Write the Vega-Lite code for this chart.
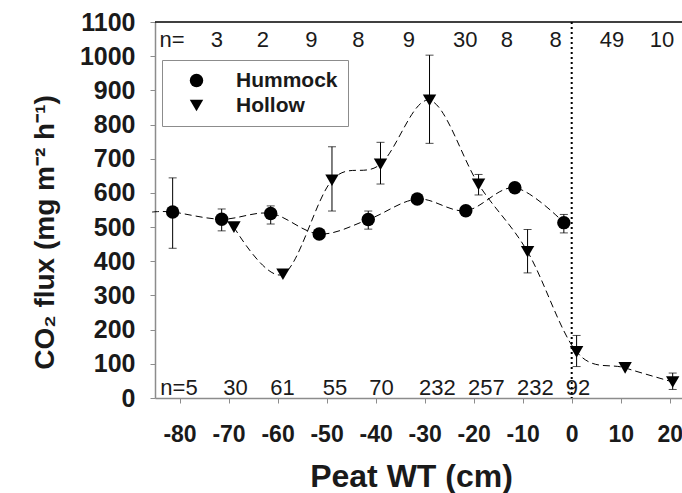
{
  "$schema": "https://vega.github.io/schema/vega-lite/v6.json",
  "width": 527,
  "height": 376,
  "autosize": {"type": "none"},
  "padding": {"left": 155, "top": 22, "right": 0, "bottom": 95},
  "background": "white",
  "config": {
    "view": {"stroke": null},
    "font": "Liberation Sans",
    "axis": {
      "grid": false,
      "domainColor": "#8c8c8c",
      "domainWidth": 1.5,
      "tickColor": "#8c8c8c",
      "tickSize": 5,
      "tickWidth": 1,
      "labelFont": "Liberation Sans",
      "labelFontWeight": "bold",
      "labelColor": "#1a1a1a",
      "labelOverlap": false,
      "titleFont": "Liberation Sans",
      "titleFontWeight": "bold",
      "titleColor": "#1a1a1a"
    },
    "axisX": {"labelFontSize": 23, "labelDx": -2.5, "titleFontSize": 32},
    "axisY": {"labelFontSize": 25, "titleFontSize": 28}
  },
  "datasets": {
    "pts": [
      {"site": "Hummock", "wt": -81.4, "flux": 544, "lo": 438, "hi": 644},
      {"site": "Hummock", "wt": -71.4, "flux": 523, "lo": 489, "hi": 553},
      {"site": "Hummock", "wt": -61.4, "flux": 540, "lo": 509, "hi": 562},
      {"site": "Hummock", "wt": -51.5, "flux": 480, "lo": 468, "hi": 492},
      {"site": "Hummock", "wt": -41.5, "flux": 522, "lo": 494, "hi": 547},
      {"site": "Hummock", "wt": -31.5, "flux": 582, "lo": 570, "hi": 594},
      {"site": "Hummock", "wt": -21.6, "flux": 548, "lo": null, "hi": null},
      {"site": "Hummock", "wt": -11.6, "flux": 615, "lo": null, "hi": null},
      {"site": "Hummock", "wt": -1.6, "flux": 513, "lo": 483, "hi": 537},
      {"site": "Hollow", "wt": -68.9, "flux": 500, "lo": null, "hi": null},
      {"site": "Hollow", "wt": -58.9, "flux": 362, "lo": null, "hi": null},
      {"site": "Hollow", "wt": -48.9, "flux": 637, "lo": 547, "hi": 735},
      {"site": "Hollow", "wt": -39.0, "flux": 684, "lo": 626, "hi": 748},
      {"site": "Hollow", "wt": -29.0, "flux": 871, "lo": 745, "hi": 1003},
      {"site": "Hollow", "wt": -19.0, "flux": 625, "lo": 594, "hi": 654},
      {"site": "Hollow", "wt": -9.0, "flux": 428, "lo": 366, "hi": 493},
      {"site": "Hollow", "wt": 1.0, "flux": 135, "lo": 92, "hi": 183},
      {"site": "Hollow", "wt": 10.9, "flux": 88, "lo": null, "hi": null},
      {"site": "Hollow", "wt": 20.6, "flux": 47, "lo": 25, "hi": 73}
    ],
    "curve": [
      {"site": "Hummock", "wt": -85.6, "flux": 544},
      {"site": "Hummock", "wt": -81.4, "flux": 544},
      {"site": "Hummock", "wt": -71.4, "flux": 523},
      {"site": "Hummock", "wt": -61.4, "flux": 540},
      {"site": "Hummock", "wt": -51.5, "flux": 480},
      {"site": "Hummock", "wt": -41.5, "flux": 522},
      {"site": "Hummock", "wt": -31.5, "flux": 582},
      {"site": "Hummock", "wt": -21.6, "flux": 548},
      {"site": "Hummock", "wt": -11.6, "flux": 615},
      {"site": "Hummock", "wt": -1.6, "flux": 513},
      {"site": "Hollow", "wt": -68.9, "flux": 500},
      {"site": "Hollow", "wt": -58.9, "flux": 362},
      {"site": "Hollow", "wt": -48.9, "flux": 637},
      {"site": "Hollow", "wt": -39.0, "flux": 684},
      {"site": "Hollow", "wt": -29.0, "flux": 871},
      {"site": "Hollow", "wt": -19.0, "flux": 625},
      {"site": "Hollow", "wt": -9.0, "flux": 428},
      {"site": "Hollow", "wt": 1.0, "flux": 135},
      {"site": "Hollow", "wt": 10.9, "flux": 88},
      {"site": "Hollow", "wt": 20.6, "flux": 47}
    ],
    "nlabels": [
      {"wt": -81.5, "flux": 1028, "label": "n="},
      {"wt": -72.4, "flux": 1028, "label": "3"},
      {"wt": -63.0, "flux": 1028, "label": "2"},
      {"wt": -53.1, "flux": 1028, "label": "9"},
      {"wt": -43.5, "flux": 1028, "label": "8"},
      {"wt": -33.2, "flux": 1028, "label": "9"},
      {"wt": -21.7, "flux": 1028, "label": "30"},
      {"wt": -13.2, "flux": 1028, "label": "8"},
      {"wt": -3.3, "flux": 1028, "label": "8"},
      {"wt": 8.2, "flux": 1028, "label": "49"},
      {"wt": 18.4, "flux": 1028, "label": "10"},
      {"wt": -80.1, "flux": 8, "label": "n=5"},
      {"wt": -68.6, "flux": 8, "label": "30"},
      {"wt": -59.0, "flux": 8, "label": "61"},
      {"wt": -48.3, "flux": 8, "label": "55"},
      {"wt": -38.8, "flux": 8, "label": "70"},
      {"wt": -27.4, "flux": 8, "label": "232"},
      {"wt": -17.4, "flux": 8, "label": "257"},
      {"wt": -7.4, "flux": 8, "label": "232"},
      {"wt": 1.3, "flux": 8, "label": "92"}
    ],
    "guides": [
      {"name": "water table", "wt": 0, "flux": 1100}
    ]
  },
  "layer": [
    {
      "data": {"name": "pts"},
      "mark": {"type": "point", "filled": true, "opacity": 1, "color": "black", "size": 180},
      "encoding": {
        "x": {
          "field": "wt", "type": "quantitative",
          "scale": {"domain": [-85, 22.5], "nice": false, "zero": false},
          "axis": {
            "title": "Peat WT (cm)",
            "values": [-80, -70, -60, -50, -40, -30, -20, -10, 0, 10, 20],
            "labelExpr": "datum.value < 0 ? '-' + abs(datum.value) : '' + datum.value",
            "labelPadding": 20,
            "titlePadding": 15,
            "titleX": 256
          }
        },
        "y": {
          "field": "flux", "type": "quantitative",
          "scale": {"domain": [0, 1100], "nice": false, "zero": false},
          "axis": {
            "title": "CO₂ flux (mg m⁻² h⁻¹)",
            "values": [0, 100, 200, 300, 400, 500, 600, 700, 800, 900, 1000, 1100],
            "labelExpr": "'' + datum.value",
            "labelPadding": 15,
            "titlePadding": 20,
            "titleY": 210
          }
        },
        "shape": {
          "field": "site", "type": "nominal",
          "scale": {"domain": ["Hummock", "Hollow"], "range": ["circle", "triangle-down"]},
          "legend": {
            "title": null,
            "orient": "none",
            "legendX": 7,
            "legendY": 38,
            "strokeColor": "#8c8c8c",
            "padding": 10,
            "rowPadding": 3,
            "labelFont": "Liberation Sans",
            "labelFontSize": 21,
            "labelFontWeight": "bold",
            "labelColor": "#1a1a1a",
            "symbolSize": 180,
            "symbolFillColor": "black",
            "symbolStrokeColor": "black",
            "symbolOffset": 14,
            "labelOffset": 29
          }
        }
      }
    },
    {
      "data": {"name": "pts"},
      "mark": {"type": "rule", "color": "black", "strokeWidth": 1},
      "encoding": {
        "x": {
          "field": "wt", "type": "quantitative",
          "axis": {
            "title": "Peat WT (cm)",
            "values": [-80, -70, -60, -50, -40, -30, -20, -10, 0, 10, 20],
            "labelExpr": "datum.value < 0 ? '-' + abs(datum.value) : '' + datum.value",
            "labelPadding": 20,
            "titlePadding": 15,
            "titleX": 256
          }
        },
        "y": {
          "field": "lo", "type": "quantitative",
          "axis": {
            "title": "CO₂ flux (mg m⁻² h⁻¹)",
            "values": [0, 100, 200, 300, 400, 500, 600, 700, 800, 900, 1000, 1100],
            "labelExpr": "'' + datum.value",
            "labelPadding": 15,
            "titlePadding": 20,
            "titleY": 210
          }
        },
        "y2": {"field": "hi"}
      }
    },
    {
      "data": {"name": "pts"},
      "mark": {"type": "tick", "orient": "horizontal", "size": 8, "thickness": 1, "color": "black"},
      "encoding": {
        "x": {
          "field": "wt", "type": "quantitative",
          "axis": {
            "title": "Peat WT (cm)",
            "values": [-80, -70, -60, -50, -40, -30, -20, -10, 0, 10, 20],
            "labelExpr": "datum.value < 0 ? '-' + abs(datum.value) : '' + datum.value",
            "labelPadding": 20,
            "titlePadding": 15,
            "titleX": 256
          }
        },
        "y": {
          "field": "hi", "type": "quantitative",
          "axis": {
            "title": "CO₂ flux (mg m⁻² h⁻¹)",
            "values": [0, 100, 200, 300, 400, 500, 600, 700, 800, 900, 1000, 1100],
            "labelExpr": "'' + datum.value",
            "labelPadding": 15,
            "titlePadding": 20,
            "titleY": 210
          }
        }
      }
    },
    {
      "data": {"name": "pts"},
      "mark": {"type": "tick", "orient": "horizontal", "size": 8, "thickness": 1, "color": "black"},
      "encoding": {
        "x": {
          "field": "wt", "type": "quantitative",
          "axis": {
            "title": "Peat WT (cm)",
            "values": [-80, -70, -60, -50, -40, -30, -20, -10, 0, 10, 20],
            "labelExpr": "datum.value < 0 ? '-' + abs(datum.value) : '' + datum.value",
            "labelPadding": 20,
            "titlePadding": 15,
            "titleX": 256
          }
        },
        "y": {
          "field": "lo", "type": "quantitative",
          "axis": {
            "title": "CO₂ flux (mg m⁻² h⁻¹)",
            "values": [0, 100, 200, 300, 400, 500, 600, 700, 800, 900, 1000, 1100],
            "labelExpr": "'' + datum.value",
            "labelPadding": 15,
            "titlePadding": 20,
            "titleY": 210
          }
        }
      }
    },
    {
      "data": {"name": "curve"},
      "mark": {"type": "line", "interpolate": "cardinal", "strokeDash": [7, 4], "strokeWidth": 1, "color": "black"},
      "encoding": {
        "x": {
          "field": "wt", "type": "quantitative",
          "axis": {
            "title": "Peat WT (cm)",
            "values": [-80, -70, -60, -50, -40, -30, -20, -10, 0, 10, 20],
            "labelExpr": "datum.value < 0 ? '-' + abs(datum.value) : '' + datum.value",
            "labelPadding": 20,
            "titlePadding": 15,
            "titleX": 256
          }
        },
        "y": {
          "field": "flux", "type": "quantitative",
          "axis": {
            "title": "CO₂ flux (mg m⁻² h⁻¹)",
            "values": [0, 100, 200, 300, 400, 500, 600, 700, 800, 900, 1000, 1100],
            "labelExpr": "'' + datum.value",
            "labelPadding": 15,
            "titlePadding": 20,
            "titleY": 210
          }
        },
        "detail": {"field": "site", "type": "nominal"}
      }
    },
    {
      "data": {"name": "nlabels"},
      "mark": {"type": "text", "font": "Liberation Sans", "fontSize": 22, "align": "center", "baseline": "alphabetic", "color": "#1a1a1a"},
      "encoding": {
        "x": {
          "field": "wt", "type": "quantitative",
          "axis": {
            "title": "Peat WT (cm)",
            "values": [-80, -70, -60, -50, -40, -30, -20, -10, 0, 10, 20],
            "labelExpr": "datum.value < 0 ? '-' + abs(datum.value) : '' + datum.value",
            "labelPadding": 20,
            "titlePadding": 15,
            "titleX": 256
          }
        },
        "y": {
          "field": "flux", "type": "quantitative",
          "axis": {
            "title": "CO₂ flux (mg m⁻² h⁻¹)",
            "values": [0, 100, 200, 300, 400, 500, 600, 700, 800, 900, 1000, 1100],
            "labelExpr": "'' + datum.value",
            "labelPadding": 15,
            "titlePadding": 20,
            "titleY": 210
          }
        },
        "text": {"field": "label", "type": "nominal"}
      }
    },
    {
      "data": {"name": "guides"},
      "mark": {"type": "rule", "color": "black", "strokeWidth": 2, "strokeDash": [2, 3]},
      "encoding": {
        "x": {
          "field": "wt", "type": "quantitative",
          "axis": {
            "title": "Peat WT (cm)",
            "values": [-80, -70, -60, -50, -40, -30, -20, -10, 0, 10, 20],
            "labelExpr": "datum.value < 0 ? '-' + abs(datum.value) : '' + datum.value",
            "labelPadding": 20,
            "titlePadding": 15,
            "titleX": 256
          }
        }
      }
    },
    {
      "data": {"name": "guides"},
      "mark": {"type": "rule", "color": "black", "strokeWidth": 1.5},
      "encoding": {
        "y": {
          "field": "flux", "type": "quantitative",
          "axis": {
            "title": "CO₂ flux (mg m⁻² h⁻¹)",
            "values": [0, 100, 200, 300, 400, 500, 600, 700, 800, 900, 1000, 1100],
            "labelExpr": "'' + datum.value",
            "labelPadding": 15,
            "titlePadding": 20,
            "titleY": 210
          }
        }
      }
    }
  ]
}
